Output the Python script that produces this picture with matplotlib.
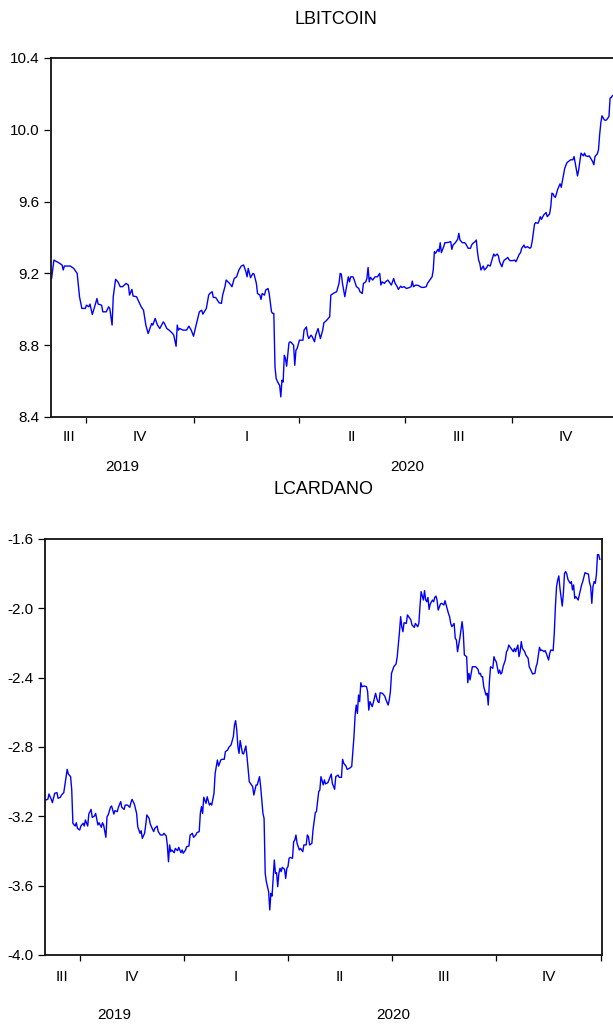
import matplotlib
matplotlib.use("Agg")
import matplotlib.pyplot as plt
import matplotlib.dates as mdates
import matplotlib.transforms as mtransforms
import numpy as np
import pandas as pd

plt.rcParams["font.family"] = ["Liberation Sans", "DejaVu Sans"]

START = "2019-09-01"

# log bitcoin close (days since START, value)
btc_day = [0, 2, 6, 9, 10, 11, 16, 19, 21, 22, 24, 26, 29, 30, 32, 33, 35, 37, 39, 40,
           43, 44, 47, 49, 50, 52, 53, 55, 57, 59, 61, 64, 66, 67, 69, 70, 73, 75, 77, 79,
           81, 83, 84, 86, 87, 89, 91, 93, 96, 97, 99, 101, 104, 105, 107, 108, 109, 110, 113, 116,
           118, 120, 122, 124, 127, 129, 130, 133, 135, 136, 138, 139, 141, 144, 146, 147, 149, 150, 153, 155,
           157, 159, 161, 163, 165, 167, 168, 169, 171, 173, 174, 176, 177, 179, 180, 181, 183, 184, 186, 187,
           189, 190, 191, 192, 193, 195, 196, 197, 198, 199, 200, 201, 202, 204, 205, 206, 208, 209, 210, 211,
           213, 216, 217, 219, 220, 221, 223, 224, 226, 227, 229, 230, 231, 233, 234, 236, 239, 240, 243, 245,
           247, 248, 249, 250, 252, 253, 255, 256, 257, 259, 260, 262, 264, 265, 267, 268, 270, 271, 272, 273,
           274, 276, 278, 280, 281, 282, 283, 284, 286, 287, 289, 291, 292, 294, 295, 297, 298, 300, 301, 303,
           305, 307, 309, 310, 311, 313, 315, 318, 320, 322, 323, 325, 327, 328, 329, 330, 332, 333, 334, 335,
           337, 338, 339, 341, 343, 344, 345, 347, 349, 350, 351, 353, 355, 356, 358, 360, 361, 362, 364, 365,
           366, 367, 368, 369, 371, 372, 374, 375, 377, 378, 380, 381, 383, 384, 385, 387, 388, 389, 390, 392,
           393, 394, 396, 398, 399, 400, 402, 403, 404, 406, 407, 409, 411, 412, 413, 415, 416, 418, 419, 420,
           421, 423, 425, 426, 428, 429, 430, 431, 432, 433, 435, 436, 437, 438, 440, 441, 443, 445, 446, 448,
           449, 450, 452, 453, 454, 455, 457, 458, 459, 461, 462, 464, 465, 466, 467, 469, 470, 471, 472, 473,
           475, 476, 477, 479, 480, 481, 482]
btc_val = [9.172, 9.274, 9.260, 9.247, 9.219, 9.241, 9.241, 9.228, 9.209, 9.200, 9.070, 9.005, 9.005, 9.023, 9.014, 9.029, 8.971, 9.014, 9.060, 9.029,
           9.023, 8.986, 8.986, 9.014, 9.005, 8.912, 9.070, 9.167, 9.153, 9.126, 9.126, 9.144, 9.135, 9.079, 9.111, 9.074, 9.070, 9.042, 9.014, 8.995,
           8.912, 8.865, 8.884, 8.921, 8.912, 8.949, 8.912, 8.893, 8.930, 8.921, 8.893, 8.884, 8.865, 8.856, 8.794, 8.912, 8.884, 8.893, 8.884, 8.884,
           8.906, 8.884, 8.850, 8.906, 8.986, 8.995, 8.973, 9.005, 9.079, 9.088, 9.098, 9.066, 9.066, 9.036, 9.033, 9.079, 9.126, 9.163, 9.144, 9.126,
           9.172, 9.181, 9.219, 9.241, 9.247, 9.209, 9.181, 9.228, 9.176, 9.200, 9.196, 9.144, 9.088, 9.079, 9.055, 9.088, 9.079, 9.107, 9.116, 9.088,
           8.986, 8.977, 8.977, 8.679, 8.614, 8.586, 8.577, 8.512, 8.605, 8.595, 8.744, 8.726, 8.683, 8.813, 8.819, 8.815, 8.800, 8.688, 8.772, 8.781,
           8.828, 8.828, 8.884, 8.902, 8.856, 8.837, 8.856, 8.847, 8.819, 8.856, 8.893, 8.865, 8.837, 8.884, 8.925, 8.936, 8.958, 9.079, 9.092, 9.098,
           9.144, 9.200, 9.196, 9.144, 9.070, 9.107, 9.181, 9.153, 9.181, 9.181, 9.166, 9.126, 9.116, 9.098, 9.088, 9.144, 9.153, 9.172, 9.233, 9.153,
           9.178, 9.163, 9.181, 9.181, 9.191, 9.200, 9.135, 9.153, 9.144, 9.153, 9.163, 9.144, 9.135, 9.172, 9.148, 9.126, 9.111, 9.129, 9.122, 9.126,
           9.116, 9.120, 9.126, 9.157, 9.126, 9.135, 9.133, 9.122, 9.122, 9.126, 9.144, 9.163, 9.181, 9.219, 9.321, 9.312, 9.334, 9.321, 9.371, 9.316,
           9.349, 9.371, 9.371, 9.373, 9.377, 9.334, 9.358, 9.371, 9.390, 9.423, 9.386, 9.371, 9.371, 9.364, 9.340, 9.340, 9.358, 9.367, 9.377, 9.386,
           9.321, 9.274, 9.256, 9.219, 9.241, 9.219, 9.233, 9.247, 9.241, 9.265, 9.308, 9.297, 9.308, 9.297, 9.265, 9.237, 9.260, 9.274, 9.278, 9.289,
           9.278, 9.271, 9.271, 9.274, 9.265, 9.278, 9.308, 9.315, 9.340, 9.358, 9.343, 9.349, 9.340, 9.345, 9.377, 9.473, 9.483, 9.479, 9.494, 9.516,
           9.501, 9.526, 9.539, 9.516, 9.531, 9.572, 9.647, 9.643, 9.628, 9.624, 9.669, 9.684, 9.699, 9.680, 9.749, 9.786, 9.818, 9.827, 9.833, 9.833,
           9.851, 9.814, 9.743, 9.777, 9.823, 9.870, 9.855, 9.870, 9.855, 9.851, 9.855, 9.833, 9.823, 9.805, 9.851, 9.866, 9.888, 9.972, 10.037, 10.078,
           10.056, 10.052, 10.056, 10.074, 10.177, 10.18, 10.19]

# log cardano close (days since START, value)
ada_day = [0, 2, 3, 5, 6, 8, 10, 11, 13, 14, 16, 17, 19, 20, 22, 23, 24, 26, 27, 28,
           30, 31, 33, 34, 35, 37, 38, 40, 41, 43, 44, 46, 47, 49, 50, 51, 53, 54, 55, 57,
           58, 60, 61, 63, 64, 66, 67, 69, 70, 72, 74, 75, 76, 78, 80, 81, 83, 84, 85, 87,
           88, 89, 91, 92, 94, 95, 96, 98, 99, 101, 103, 104, 106, 107, 108, 109, 110, 111, 113, 114,
           116, 117, 119, 120, 121, 123, 124, 126, 127, 129, 130, 132, 133, 135, 136, 137, 138, 139, 141, 142,
           144, 145, 146, 148, 149, 151, 152, 154, 155, 157, 158, 160, 161, 163, 165, 166, 167, 168, 169, 170,
           171, 173, 174, 176, 177, 179, 180, 182, 183, 185, 186, 188, 189, 191, 192, 193, 194, 196, 197, 198,
           199, 201, 202, 203, 204, 205, 206, 207, 208, 210, 211, 212, 213, 214, 215, 217, 218, 219, 220, 221,
           223, 224, 226, 227, 229, 230, 231, 232, 234, 235, 237, 238, 240, 241, 242, 244, 245, 246, 248, 249,
           251, 252, 254, 255, 257, 258, 260, 261, 262, 264, 265, 267, 269, 271, 272, 273, 274, 275, 276, 277,
           278, 280, 282, 283, 284, 285, 287, 288, 290, 291, 292, 293, 294, 296, 298, 299, 301, 302, 303, 304,
           306, 308, 309, 311, 312, 313, 314, 315, 317, 318, 319, 321, 322, 324, 325, 327, 328, 329, 330, 332,
           333, 334, 335, 336, 337, 338, 340, 341, 342, 343, 344, 345, 347, 348, 350, 351, 352, 354, 355, 356,
           357, 359, 360, 361, 362, 363, 364, 365, 366, 367, 368, 370, 371, 372, 373, 374, 375, 377, 378, 380,
           381, 382, 383, 384, 385, 387, 388, 389, 390, 391, 393, 394, 395, 396, 398, 399, 400, 401, 402, 404,
           405, 406, 407, 409, 411, 412, 413, 415, 416, 417, 418, 419, 421, 422, 424, 425, 427, 428, 430, 431,
           432, 434, 435, 436, 438, 439, 440, 442, 443, 444, 446, 447, 448, 449, 450, 451, 452, 454, 455, 456,
           457, 458, 459, 461, 462, 463, 464, 465, 466, 468, 469, 470, 471, 472, 474, 475, 477, 478, 479, 480,
           481, 482, 483, 484, 485, 486, 487]
ada_val = [-3.106, -3.102, -3.071, -3.102, -3.121, -3.067, -3.063, -3.096, -3.090, -3.077, -3.063, -3.019, -2.929, -2.956, -2.971, -3.048, -3.240, -3.256, -3.237, -3.269,
           -3.279, -3.256, -3.240, -3.256, -3.221, -3.256, -3.187, -3.160, -3.206, -3.198, -3.183, -3.250, -3.237, -3.263, -3.237, -3.250, -3.321, -3.202, -3.192, -3.148,
           -3.140, -3.187, -3.167, -3.173, -3.148, -3.115, -3.148, -3.160, -3.135, -3.135, -3.148, -3.121, -3.102, -3.129, -3.183, -3.260, -3.298, -3.283, -3.327, -3.298,
           -3.250, -3.192, -3.212, -3.244, -3.275, -3.288, -3.269, -3.256, -3.288, -3.308, -3.308, -3.298, -3.313, -3.365, -3.462, -3.365, -3.404, -3.394, -3.410, -3.385,
           -3.398, -3.379, -3.410, -3.394, -3.413, -3.394, -3.375, -3.371, -3.308, -3.298, -3.321, -3.308, -3.294, -3.288, -3.183, -3.144, -3.183, -3.090, -3.125, -3.087,
           -3.135, -3.125, -3.135, -3.067, -2.952, -2.875, -2.910, -2.875, -2.871, -2.871, -2.827, -2.817, -2.802, -2.788, -2.740, -2.673, -2.648, -2.702, -2.798, -2.837,
           -2.763, -2.837, -2.840, -2.794, -2.856, -3.000, -3.010, -3.029, -3.077, -3.019, -3.019, -2.971, -3.029, -3.183, -3.212, -3.529, -3.577, -3.635, -3.740, -3.644,
           -3.660, -3.452, -3.529, -3.525, -3.606, -3.529, -3.500, -3.519, -3.494, -3.506, -3.558, -3.500, -3.490, -3.442, -3.437, -3.442, -3.346, -3.337, -3.308, -3.356,
           -3.394, -3.385, -3.404, -3.365, -3.365, -3.308, -3.317, -3.365, -3.356, -3.279, -3.179, -3.173, -3.058, -3.048, -2.971, -3.019, -2.990, -3.013, -3.006, -2.990,
           -2.956, -3.010, -3.044, -2.971, -2.962, -2.975, -2.975, -2.871, -2.894, -2.910, -2.929, -2.923, -2.913, -2.740, -2.615, -2.558, -2.606, -2.500, -2.538, -2.429,
           -2.452, -2.448, -2.452, -2.481, -2.587, -2.538, -2.567, -2.544, -2.490, -2.519, -2.538, -2.544, -2.487, -2.490, -2.506, -2.525, -2.558, -2.529, -2.481, -2.375,
           -2.337, -2.321, -2.279, -2.135, -2.048, -2.106, -2.135, -2.083, -2.087, -2.038, -2.048, -2.067, -2.096, -2.110, -2.087, -2.106, -2.087, -1.987, -1.904, -1.952,
           -1.898, -1.952, -1.962, -1.937, -2.006, -1.975, -1.952, -1.962, -1.937, -1.929, -1.952, -2.010, -1.975, -1.971, -1.981, -1.956, -1.981, -2.029, -2.048, -2.087,
           -2.106, -2.087, -2.173, -2.183, -2.250, -2.212, -2.173, -2.125, -2.077, -2.135, -2.269, -2.279, -2.429, -2.375, -2.413, -2.375, -2.337, -2.337, -2.337, -2.352,
           -2.379, -2.375, -2.394, -2.394, -2.452, -2.500, -2.490, -2.558, -2.423, -2.337, -2.346, -2.279, -2.298, -2.308, -2.375, -2.356, -2.379, -2.371, -2.337, -2.298,
           -2.250, -2.240, -2.212, -2.231, -2.250, -2.231, -2.250, -2.212, -2.279, -2.250, -2.192, -2.231, -2.250, -2.269, -2.288, -2.337, -2.365, -2.379, -2.375, -2.337,
           -2.317, -2.225, -2.244, -2.240, -2.250, -2.244, -2.260, -2.298, -2.260, -2.240, -2.244, -2.144, -1.990, -1.875, -1.837, -1.813, -1.885, -1.987, -1.913, -1.798,
           -1.788, -1.802, -1.833, -1.856, -1.846, -1.894, -1.865, -1.942, -1.933, -1.952, -1.923, -1.894, -1.865, -1.846, -1.794, -1.798, -1.802, -1.852, -1.875, -1.971,
           -1.875, -1.846, -1.856, -1.808, -1.690, -1.690, -1.717]

quarter_starts = ["2019-10-01", "2020-01-01", "2020-04-01", "2020-07-01", "2020-10-01", "2021-01-01"]
quarter_names = ["III", "IV", "I", "II", "III", "IV"]
year_starts = ["2020-01-01"]
year_names = ["2019", "2020"]

btc_ticks = [8.4, 8.8, 9.2, 9.6, 10.0, 10.4]
ada_ticks = [-4.0, -3.6, -3.2, -2.8, -2.4, -2.0, -1.6]

BLUE = "#0000FF"
W, H = 613, 1025


def to_dates(days):
    return pd.Timestamp(START) + pd.to_timedelta(np.asarray(days), unit="D")


def style_panel(ax, fig, yticks, q_off, y_off):
    lo = mdates.date2num(pd.Timestamp(START) - pd.Timedelta(hours=12))
    hi = mdates.date2num(pd.Timestamp("2021-01-01 12:00"))
    ax.set_xlim(lo, hi)
    ax.set_ylim(yticks[0], yticks[-1])
    ax.set_yticks(yticks)
    ax.set_yticklabels([f"{t:.1f}" for t in yticks])
    qs = [mdates.date2num(pd.Timestamp(q)) for q in quarter_starts]
    ax.set_xticks(qs)
    ax.set_xticklabels([])
    ax.tick_params(axis="y", direction="out", length=5, width=0.9,
                   colors="black", labelsize=11, pad=3.5)
    ax.tick_params(axis="x", direction="out", length=4, width=0.9)
    for s in ax.spines.values():
        s.set_linewidth(1.3)
        s.set_color("#111111")

    base = ax.get_xaxis_transform()
    qtr = mtransforms.offset_copy(base, fig=fig, x=0, y=-q_off, units="dots")
    ytr = mtransforms.offset_copy(base, fig=fig, x=0, y=-y_off, units="dots")
    edges = [lo] + qs[:-1] + [hi]
    for name, a, b in zip(quarter_names, edges[:-1], edges[1:]):
        ax.text((a + b) / 2, 0, name, transform=qtr, ha="center", va="center",
                fontsize=11, clip_on=False)
    ye = [lo] + [mdates.date2num(pd.Timestamp(y)) for y in year_starts] + [hi]
    for name, a, b in zip(year_names, ye[:-1], ye[1:]):
        ax.text((a + b) / 2, 0, name, transform=ytr, ha="center", va="center",
                fontsize=11, clip_on=False)


fig = plt.figure(figsize=(W / 100, H / 100), dpi=100)

# top panel is wider than the figure and gets cut on the right, as in the source
ax1 = fig.add_axes([51 / W, 1 - 417 / H, (620 - 51) / W, (417 - 58) / H])
ax1.plot(to_dates(btc_day), btc_val, color=BLUE, lw=1.0)
style_panel(ax1, fig, btc_ticks, q_off=20, y_off=50)
fig.text((51 + 620) / 2 / W, 1 - 19 / H, "LBITCOIN", ha="center", va="center", fontsize=13)

ax2 = fig.add_axes([45 / W, 1 - 955 / H, (601.5 - 45) / W, (955 - 539) / H])
ax2.plot(to_dates(ada_day), ada_val, color=BLUE, lw=1.0)
style_panel(ax2, fig, ada_ticks, q_off=22, y_off=60)
fig.text((45 + 601.5) / 2 / W, 1 - 490 / H, "LCARDANO", ha="center", va="center", fontsize=13)

fig.savefig("out.png", dpi=100, facecolor="white")
